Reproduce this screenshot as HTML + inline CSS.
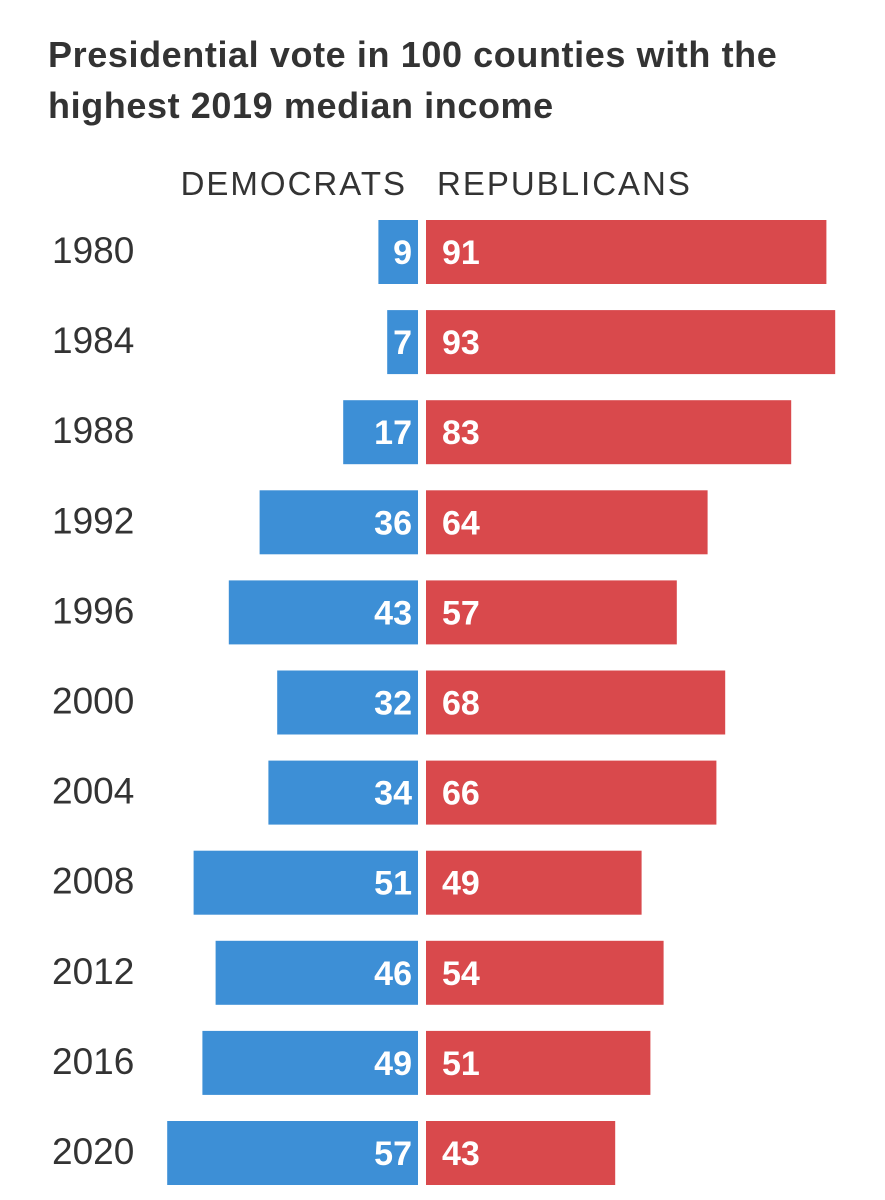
<!DOCTYPE html>
<html><head><meta charset="utf-8"><style>
body{margin:0;width:885px;height:1200px;background:#fff;overflow:hidden;font-family:"Liberation Sans",sans-serif}
#title{position:absolute;left:48px;top:29px;font-size:36px;font-weight:bold;color:#333;line-height:51px;letter-spacing:0.6px;white-space:nowrap}
svg{position:absolute;left:0;top:0}
</style></head><body>
<div id="title">Presidential vote in 100 counties with the<br>highest 2019 median income</div>
<svg id="chart" width="885" height="1200"></svg>
<script>
const years=["1980","1984","1988","1992","1996","2000","2004","2008","2012","2016","2020"];
const dem=[9,7,17,36,43,32,34,51,46,49,57];
const rep=[91,93,83,64,57,68,66,49,54,51,43];
const NS="http://www.w3.org/2000/svg";
const svg=document.getElementById('chart');
const scale=4.4, demRight=418, repLeft=426, top0=220, pitch=90.1, barH=64;
function x(v){return v*scale;}
function y(i){return top0+i*pitch;}
function mk(tag,attrs,text){const e=document.createElementNS(NS,tag);for(const k in attrs)e.setAttribute(k,attrs[k]);if(text!==undefined)e.textContent=text;svg.appendChild(e);return e;}
let h=mk('text',{x:407,y:195,'text-anchor':'end','font-size':33,fill:'#333','letter-spacing':'2'},'DEMOCRATS');


h=mk('text',{x:437,y:195,'font-size':33,fill:'#333','letter-spacing':'2'},'REPUBLICANS');


years.forEach((yr,i)=>{
  const t=y(i);
  let e=mk('text',{x:52,y:t+barH/2+11,'font-size':37,fill:'#333'},yr);
  
  
  e=mk('rect',{x:demRight-x(dem[i]),y:t,width:x(dem[i]),height:barH,fill:'#3d8fd6'});
  
  
  e=mk('rect',{x:repLeft,y:t,width:x(rep[i]),height:barH,fill:'#d9494c'});
  
  
  e=mk('text',{x:demRight-6,y:t+barH/2+12,'text-anchor':'end','font-size':34,'font-weight':'bold',fill:'#fff'},dem[i]);
  
  
  e=mk('text',{x:repLeft+16,y:t+barH/2+12,'font-size':34,'font-weight':'bold',fill:'#fff'},rep[i]);
  
  
});
</script>
</body></html>
